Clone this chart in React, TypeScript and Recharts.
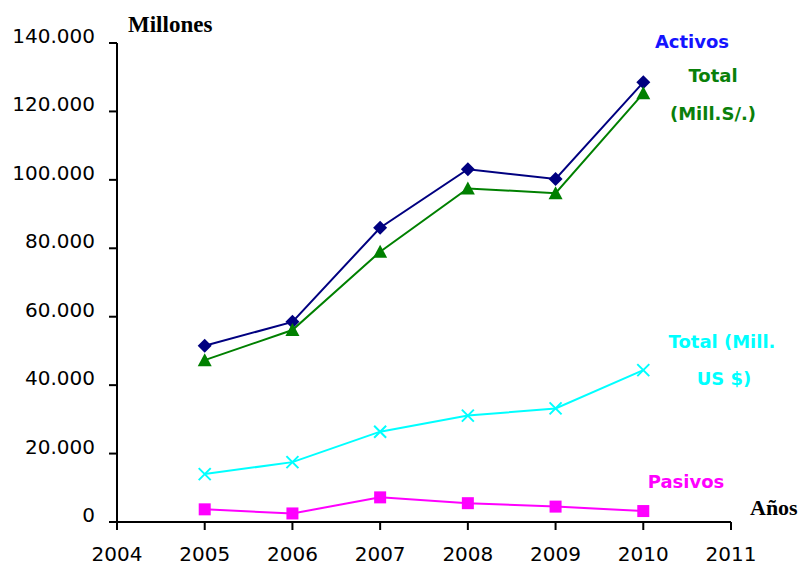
import React from "react";
import { LineChart, Line, XAxis, YAxis } from "recharts";

// Años y series (millones)
const years = [2005, 2006, 2007, 2008, 2009, 2010];
const activos = [51500, 58500, 86000, 103100, 100250, 128500];
const totalSoles = [47300, 56100, 79000, 97500, 96100, 125300];
const totalDolares = [14000, 17500, 26400, 31100, 33200, 44400];
const pasivos = [3700, 2500, 7200, 5500, 4500, 3200];

const xTicks = [2004, 2005, 2006, 2007, 2008, 2009, 2010, 2011];
const yTicks = [0, 20000, 40000, 60000, 80000, 100000, 120000, 140000];

const data = years.map((year, i) => ({
  year,
  activos: activos[i],
  totalSoles: totalSoles[i],
  totalDolares: totalDolares[i],
  pasivos: pasivos[i],
}));

const W = 801;
const H = 565;
const SANS = "'DejaVu Sans', sans-serif";
const SERIF = "'Liberation Serif', 'Times New Roman', serif";

const fmtMiles = (v: number) => String(v).replace(/\B(?=(\d{3})+(?!\d))/g, ".");

const YTick = ({ x, y, payload }: any) => (
  <text x={x} y={y} textAnchor="end" fontSize={20} fontFamily={SANS} fill="#000">
    {fmtMiles(payload.value)}
  </text>
);

const XTick = ({ x, y, payload }: any) => (
  <text x={x} y={y + 31} textAnchor="middle" fontSize={20} fontFamily={SANS} fill="#000">
    {payload.value}
  </text>
);

const Diamond = ({ cx, cy }: any) => (
  <path d={`M${cx},${cy - 7}L${cx + 7},${cy}L${cx},${cy + 7}L${cx - 7},${cy}Z`} fill="#000080" />
);

const Triangle = ({ cx, cy }: any) => (
  <path d={`M${cx},${cy - 7}L${cx + 7},${cy + 6}L${cx - 7},${cy + 6}Z`} fill="#008000" />
);

const Cross = ({ cx, cy }: any) => (
  <path
    d={`M${cx - 6},${cy - 6}L${cx + 6},${cy + 6}M${cx + 6},${cy - 6}L${cx - 6},${cy + 6}`}
    stroke="#00ffff"
    strokeWidth={2}
  />
);

const Square = ({ cx, cy }: any) => (
  <rect x={cx - 6} y={cy - 6} width={12} height={12} fill="#ff00ff" />
);

const labels = [
  { text: "Activos", x: 692, y: 48, color: "#1414ff" },
  { text: "Total", x: 713, y: 82, color: "#0a800a" },
  { text: "(Mill.S/.)", x: 713, y: 120, color: "#0a800a" },
  { text: "Total (Mill.", x: 722, y: 348, color: "#00ffff" },
  { text: "US $)", x: 724, y: 385, color: "#00ffff" },
  { text: "Pasivos", x: 686, y: 488, color: "#ff00ff" },
];

export default function App() {
  return (
    <div style={{ position: "absolute", left: 0, top: 0, width: W, height: H, background: "#fff" }}>
      <LineChart width={W} height={H} data={data} margin={{ top: 43, right: 70, bottom: 0, left: 0 }}>
        <XAxis
          type="number"
          dataKey="year"
          domain={[2004, 2011]}
          ticks={xTicks}
          height={43}
          tickSize={8}
          tickMargin={0}
          tick={<XTick />}
          axisLine={{ stroke: "#000", strokeWidth: 2 }}
          tickLine={{ stroke: "#000", strokeWidth: 2 }}
        />
        <YAxis
          domain={[0, 140000]}
          ticks={yTicks}
          width={117}
          tickSize={8}
          tickMargin={14}
          tick={<YTick />}
          axisLine={{ stroke: "#000", strokeWidth: 2 }}
          tickLine={{ stroke: "#000", strokeWidth: 2 }}
        />
        <Line dataKey="activos" stroke="#000080" strokeWidth={2} dot={<Diamond />} isAnimationActive={false} />
        <Line dataKey="totalSoles" stroke="#008000" strokeWidth={2} dot={<Triangle />} isAnimationActive={false} />
        <Line dataKey="totalDolares" stroke="#00ffff" strokeWidth={2} dot={<Cross />} isAnimationActive={false} />
        <Line dataKey="pasivos" stroke="#ff00ff" strokeWidth={2} dot={<Square />} isAnimationActive={false} />
      </LineChart>
      <svg width={W} height={H} style={{ position: "absolute", left: 0, top: 0, pointerEvents: "none" }}>
        <text x={128} y={32} fontFamily={SERIF} fontWeight="bold" fontSize={23} fill="#000">
          Millones
        </text>
        <text x={750} y={515} fontFamily={SERIF} fontWeight="bold" fontSize={22} fill="#000">
          Años
        </text>
        {labels.map((l) => (
          <text
            key={l.text}
            x={l.x}
            y={l.y}
            textAnchor="middle"
            fontFamily={SANS}
            fontWeight="bold"
            fontSize={18}
            fill={l.color}
          >
            {l.text}
          </text>
        ))}
      </svg>
    </div>
  );
}
